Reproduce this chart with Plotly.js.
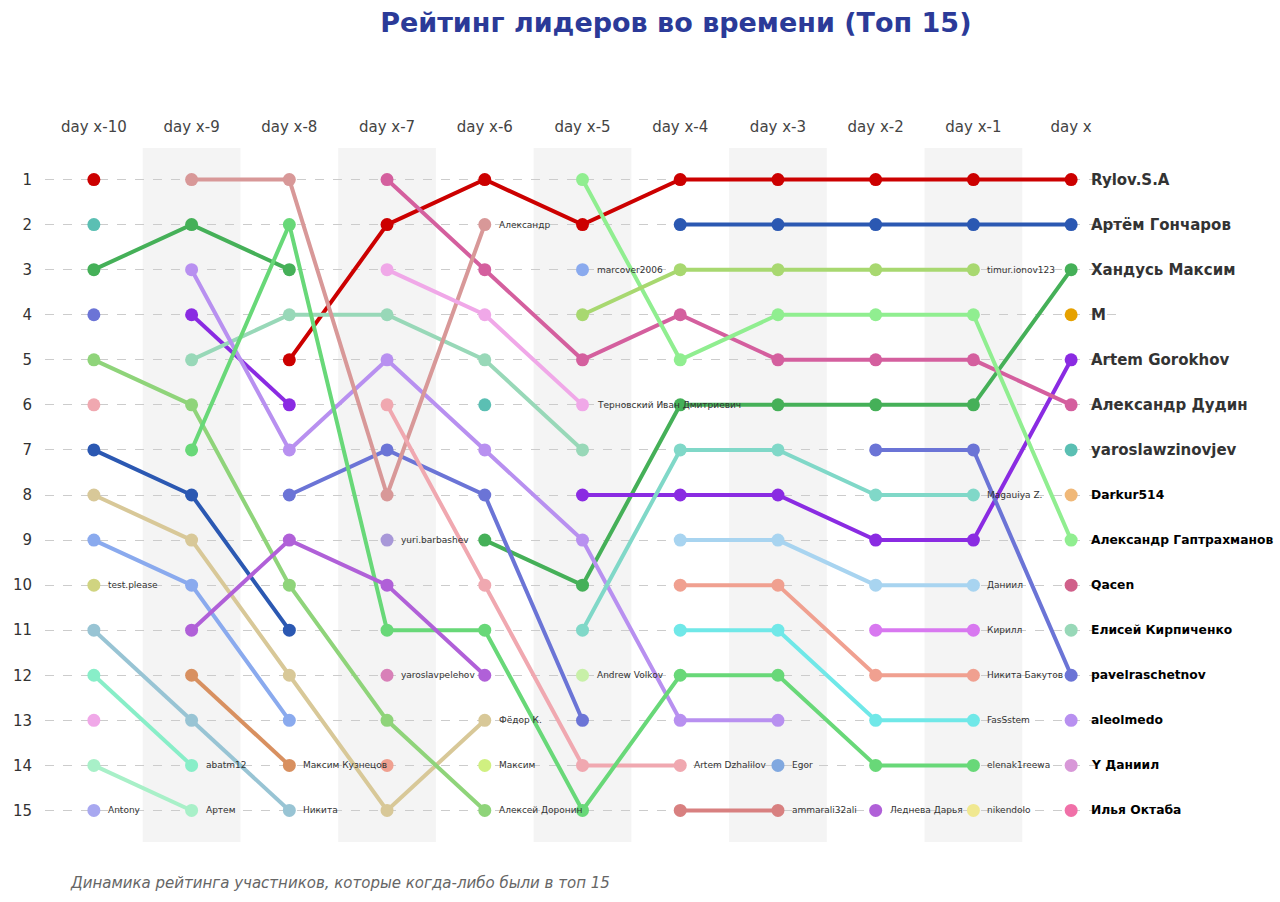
<!DOCTYPE html>
<html>
<head>
<meta charset="utf-8">
<script src="https://cdn.plot.ly/plotly-3.0.1.min.js"></script>
<style>
  html, body { margin: 0; padding: 0; background: #fff; }
  #chart { width: 1280px; height: 902px; }
</style>
</head>
<body>
<div id="chart"></div>
<script>
// day columns, left to right
var days = ['day x-10', 'day x-9', 'day x-8', 'day x-7', 'day x-6', 'day x-5',
            'day x-4', 'day x-3', 'day x-2', 'day x-1', 'day x'];

var rankTicks = [1, 2, 3, 4, 5, 6, 7, 8, 9, 10, 11, 12, 13, 14, 15];

var names = [
    'Rylov.S.A', 'Артём Гончаров', 'Хандусь Максим', 'M', 'Artem Gorokhov',
    'Александр Дудин', 'yaroslawzinovjev', 'Darkur514', 'Александр Гаптрахманов', 'Qacen',
    'Елисей Кирпиченко', 'pavelraschetnov', 'aleolmedo', 'Y Даниил', 'Илья Октаба',
    'Александр', 'marcover2006', 'Терновский Иван Дмитриевич', 'Artem Dzhalilov', 'Фёдор К.',
    'test.please', 'Никита', 'abatm12', 'Артем', 'Antony',
    'Алексей Доронин', 'elenak1reewa', 'Леднева Дарья', 'Максим Кузнецов', 'Никита Бакутов',
    'yuri.barbashev', 'yaroslavpelehov', 'Максим', 'timur.ionov123', 'Magauiya Z.',
    'Andrew Volkov', 'Даниил', 'FasSstem', 'ammarali32ali', 'Egor',
    'Кирилл', 'nikendolo'
];

var colors = [
    '#cc0000', '#2b58b2', '#45b058', '#e6a100', '#8a2be2',
    '#d45f9e', '#5bbfb3', '#f0b878', '#90ee90', '#d0608a',
    '#98d8b8', '#6b74d6', '#b890f0', '#d898d8', '#f070a8',
    '#d89898', '#8aaaee', '#f0a8e8', '#f0a8b0', '#d8c898',
    '#d0d480', '#98c4d4', '#88eec8', '#a8f0c8', '#a8a8f0',
    '#8fd47a', '#68d878', '#b060d8', '#d89060', '#f0a090',
    '#a898d8', '#d880b8', '#d0f080', '#a8d870', '#80d8c8',
    '#c8f0a8', '#a8d4f0', '#70e8e8', '#d88080', '#80a8e0',
    '#d878f0', '#f0e890'
];

// rank per day (null = not in top 15)
var ranks = [
    [1, null, 5, 2, 1, 2, 1, 1, 1, 1, 1],
    [7, 8, 11, null, null, null, 2, 2, 2, 2, 2],
    [3, 2, 3, null, 9, 10, 6, 6, 6, 6, 3],
    [null, null, null, null, null, null, null, null, null, null, 4],
    [null, 4, 6, null, null, 8, 8, 8, 9, 9, 5],
    [null, null, null, 1, 3, 5, 4, 5, 5, 5, 6],
    [2, null, null, null, 6, null, null, null, null, null, 7],
    [null, null, null, null, null, null, null, null, null, null, 8],
    [null, null, null, null, null, 1, 5, 4, 4, 4, 9],
    [null, null, null, null, null, null, null, null, null, null, 10],
    [null, 5, 4, 4, 5, 7, null, null, null, null, 11],
    [4, null, 8, 7, 8, 13, null, null, 7, 7, 12],
    [null, 3, 7, 5, 7, 9, 13, 13, null, null, 13],
    [null, null, null, null, null, null, null, null, null, null, 14],
    [null, null, null, null, null, null, null, null, null, null, 15],
    [null, 1, 1, 8, 2, null, null, null, null, null, null],
    [9, 10, 13, null, null, 3, null, null, null, null, null],
    [13, null, null, 3, 4, 6, null, null, null, null, null],
    [6, null, null, 6, 10, 14, 14, null, null, null, null],
    [8, 9, 12, 15, 13, null, null, null, null, null, null],
    [10, null, null, null, null, null, null, null, null, null, null],
    [11, 13, 15, null, null, null, null, null, null, null, null],
    [12, 14, null, null, null, null, null, null, null, null, null],
    [14, 15, null, null, null, null, null, null, null, null, null],
    [15, null, null, null, null, null, null, null, null, null, null],
    [5, 6, 10, 13, 15, null, null, null, null, null, null],
    [null, 7, 2, 11, 11, 15, 12, 12, 14, 14, null],
    [null, 11, 9, 10, 12, null, null, null, 15, null, null],
    [null, 12, 14, null, null, null, null, null, null, null, null],
    [null, null, null, 14, null, null, 10, 10, 12, 12, null],
    [null, null, null, 9, null, null, null, null, null, null, null],
    [null, null, null, 12, null, null, null, null, null, null, null],
    [null, null, null, null, 14, null, null, null, null, null, null],
    [null, null, null, null, null, 4, 3, 3, 3, 3, null],
    [null, null, null, null, null, 11, 7, 7, 8, 8, null],
    [null, null, null, null, null, 12, null, null, null, null, null],
    [null, null, null, null, null, null, 9, 9, 10, 10, null],
    [null, null, null, null, null, null, 11, 11, 13, 13, null],
    [null, null, null, null, null, null, 15, 15, null, null, null],
    [null, null, null, null, null, null, null, 14, null, null, null],
    [null, null, null, null, null, null, null, null, 11, 11, null],
    [null, null, null, null, null, null, null, null, null, 15, null]
];

var xs = days.map(function(d, i) { return i; });
var traces = [];
var annotations = [];

for (var p = 0; p < names.length; p++) {
    traces.push({
        x: xs,
        y: ranks[p],
        type: 'scatter',
        mode: 'lines+markers',
        connectgaps: false,
        line: { color: colors[p], width: 4 },
        marker: { color: colors[p], size: 13 },
        hoverinfo: 'skip',
        showlegend: false
    });

    // label next to the last point
    var last = -1;
    for (var d = 0; d < ranks[p].length; d++) {
        if (ranks[p][d] !== null) last = d;
    }
    var isFinal = last === days.length - 1;
    var big = isFinal && ranks[p][last] <= 7;
    annotations.push({
        x: last,
        y: ranks[p][last],
        xref: 'x',
        yref: 'y',
        text: isFinal ? '<b>' + names[p] + '</b>' : names[p],
        showarrow: false,
        xanchor: 'left',
        yanchor: 'middle',
        xshift: isFinal ? 18 : 12,
        font: {
            family: 'DejaVu Sans',
            size: isFinal ? (big ? 15 : 12.3) : 9,
            color: isFinal ? (big ? '#333333' : '#000000') : '#333333'
        }
    });
}

annotations.push({
    xref: 'paper', yref: 'paper',
    x: 0.021, y: -0.059,
    xanchor: 'left', yanchor: 'middle',
    text: '<i>Динамика рейтинга участников, которые когда-либо были в топ 15</i>',
    showarrow: false,
    font: { family: 'DejaVu Sans', size: 15, color: '#666666' }
});

var shapes = [];
for (var s = 1; s < days.length; s += 2) {
    shapes.push({
        type: 'rect', xref: 'x', yref: 'paper',
        x0: s - 0.5, x1: s + 0.5, y0: 0, y1: 1,
        fillcolor: '#f4f4f4', line: { width: 0 }, layer: 'below'
    });
}

var layout = {
    width: 1280,
    height: 902,
    margin: { l: 45, r: 160, t: 148, b: 60 },
    paper_bgcolor: '#ffffff',
    plot_bgcolor: '#ffffff',
    font: { family: 'DejaVu Sans', color: '#333333' },
    title: {
        text: '<b>Рейтинг лидеров во времени (Топ 15)</b>',
        font: { family: 'DejaVu Sans', size: 27, color: '#2b3a98' },
        x: 0.528, xanchor: 'center',
        y: 0.975, yref: 'container', yanchor: 'middle'
    },
    xaxis: {
        side: 'top',
        range: [-0.5, 10.5],
        tickvals: xs,
        ticktext: days,
        showgrid: false,
        zeroline: false,
        showline: false,
        ticks: '',
        ticklabelstandoff: 12,
        tickfont: { family: 'DejaVu Sans', size: 15, color: '#444444' }
    },
    yaxis: {
        range: [15.7, 0.3],
        tickvals: rankTicks,
        showgrid: true,
        gridcolor: '#cccccc',
        griddash: 'dash',
        gridwidth: 1,
        zeroline: false,
        showline: false,
        ticks: '',
        ticklabelstandoff: 12,
        tickfont: { family: 'DejaVu Sans', size: 15, color: '#333333' }
    },
    shapes: shapes,
    annotations: annotations
};

Plotly.newPlot('chart', traces, layout, { staticPlot: true });
</script>
</body>
</html>
